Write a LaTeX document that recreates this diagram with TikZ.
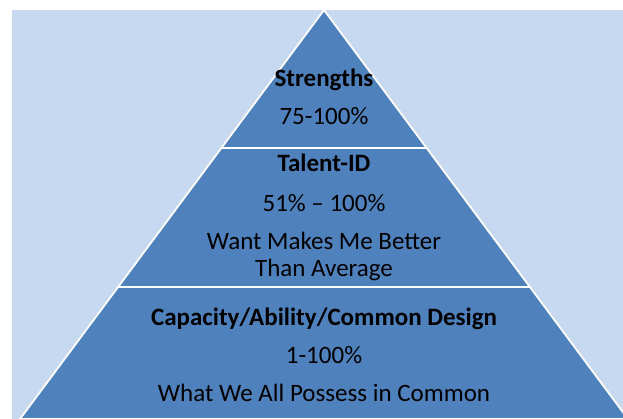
\documentclass[tikz,border=0pt]{standalone}
\usepackage{fontspec}
\setmainfont{Carlito}
\definecolor{bgblue}{HTML}{C6D9F1}
\definecolor{pyrblue}{HTML}{4F81BD}
\begin{document}
\begin{tikzpicture}[x=1pt,y=-1pt,
  tier/.style={fill=pyrblue,draw=white,line width=1.8pt,line join=miter},
  lbl/.style={inner sep=0pt,font=\fontsize{25}{27}\selectfont,text=black,align=center},
  blbl/.style={lbl,font=\fontsize{25}{27}\selectfont\bfseries}]
\useasboundingbox (0,0) rectangle (623,419);
\fill[white] (0,0) rectangle (623,419);
\fill[bgblue] (12,10) rectangle (623,419);
\begin{scope}
\clip (12,10) rectangle (623,419);
\coordinate (apex) at (324,10);
\path[tier] (apex) -- (221.4,148) -- (426.6,148) -- cycle;
\path[tier] (221.4,148) -- (118.1,287) -- (529.9,287) -- (426.6,148) -- cycle;
\path[tier] (118.1,287) -- (20,419) -- (628,419) -- (529.9,287) -- cycle;
\end{scope}
\node[blbl] (s1) at (324,80) {Strengths};
\node[lbl] (s2) at (324,116) {75-100\%};
\node[blbl] (t1) at (324,163) {Talent-ID};
\node[lbl] (t2) at (324,203) {51\% – 100\%};
\node[lbl] (t3) at (324,256) {Want Makes Me Better\\Than Average};
\node[blbl] (c1) at (324,319) {Capacity/Ability/Common Design};
\node[lbl] (c2) at (324,355) {1-100\%};
\node[lbl] (c3) at (324,393) {What We All Possess in Common};
\end{tikzpicture}
\end{document}
